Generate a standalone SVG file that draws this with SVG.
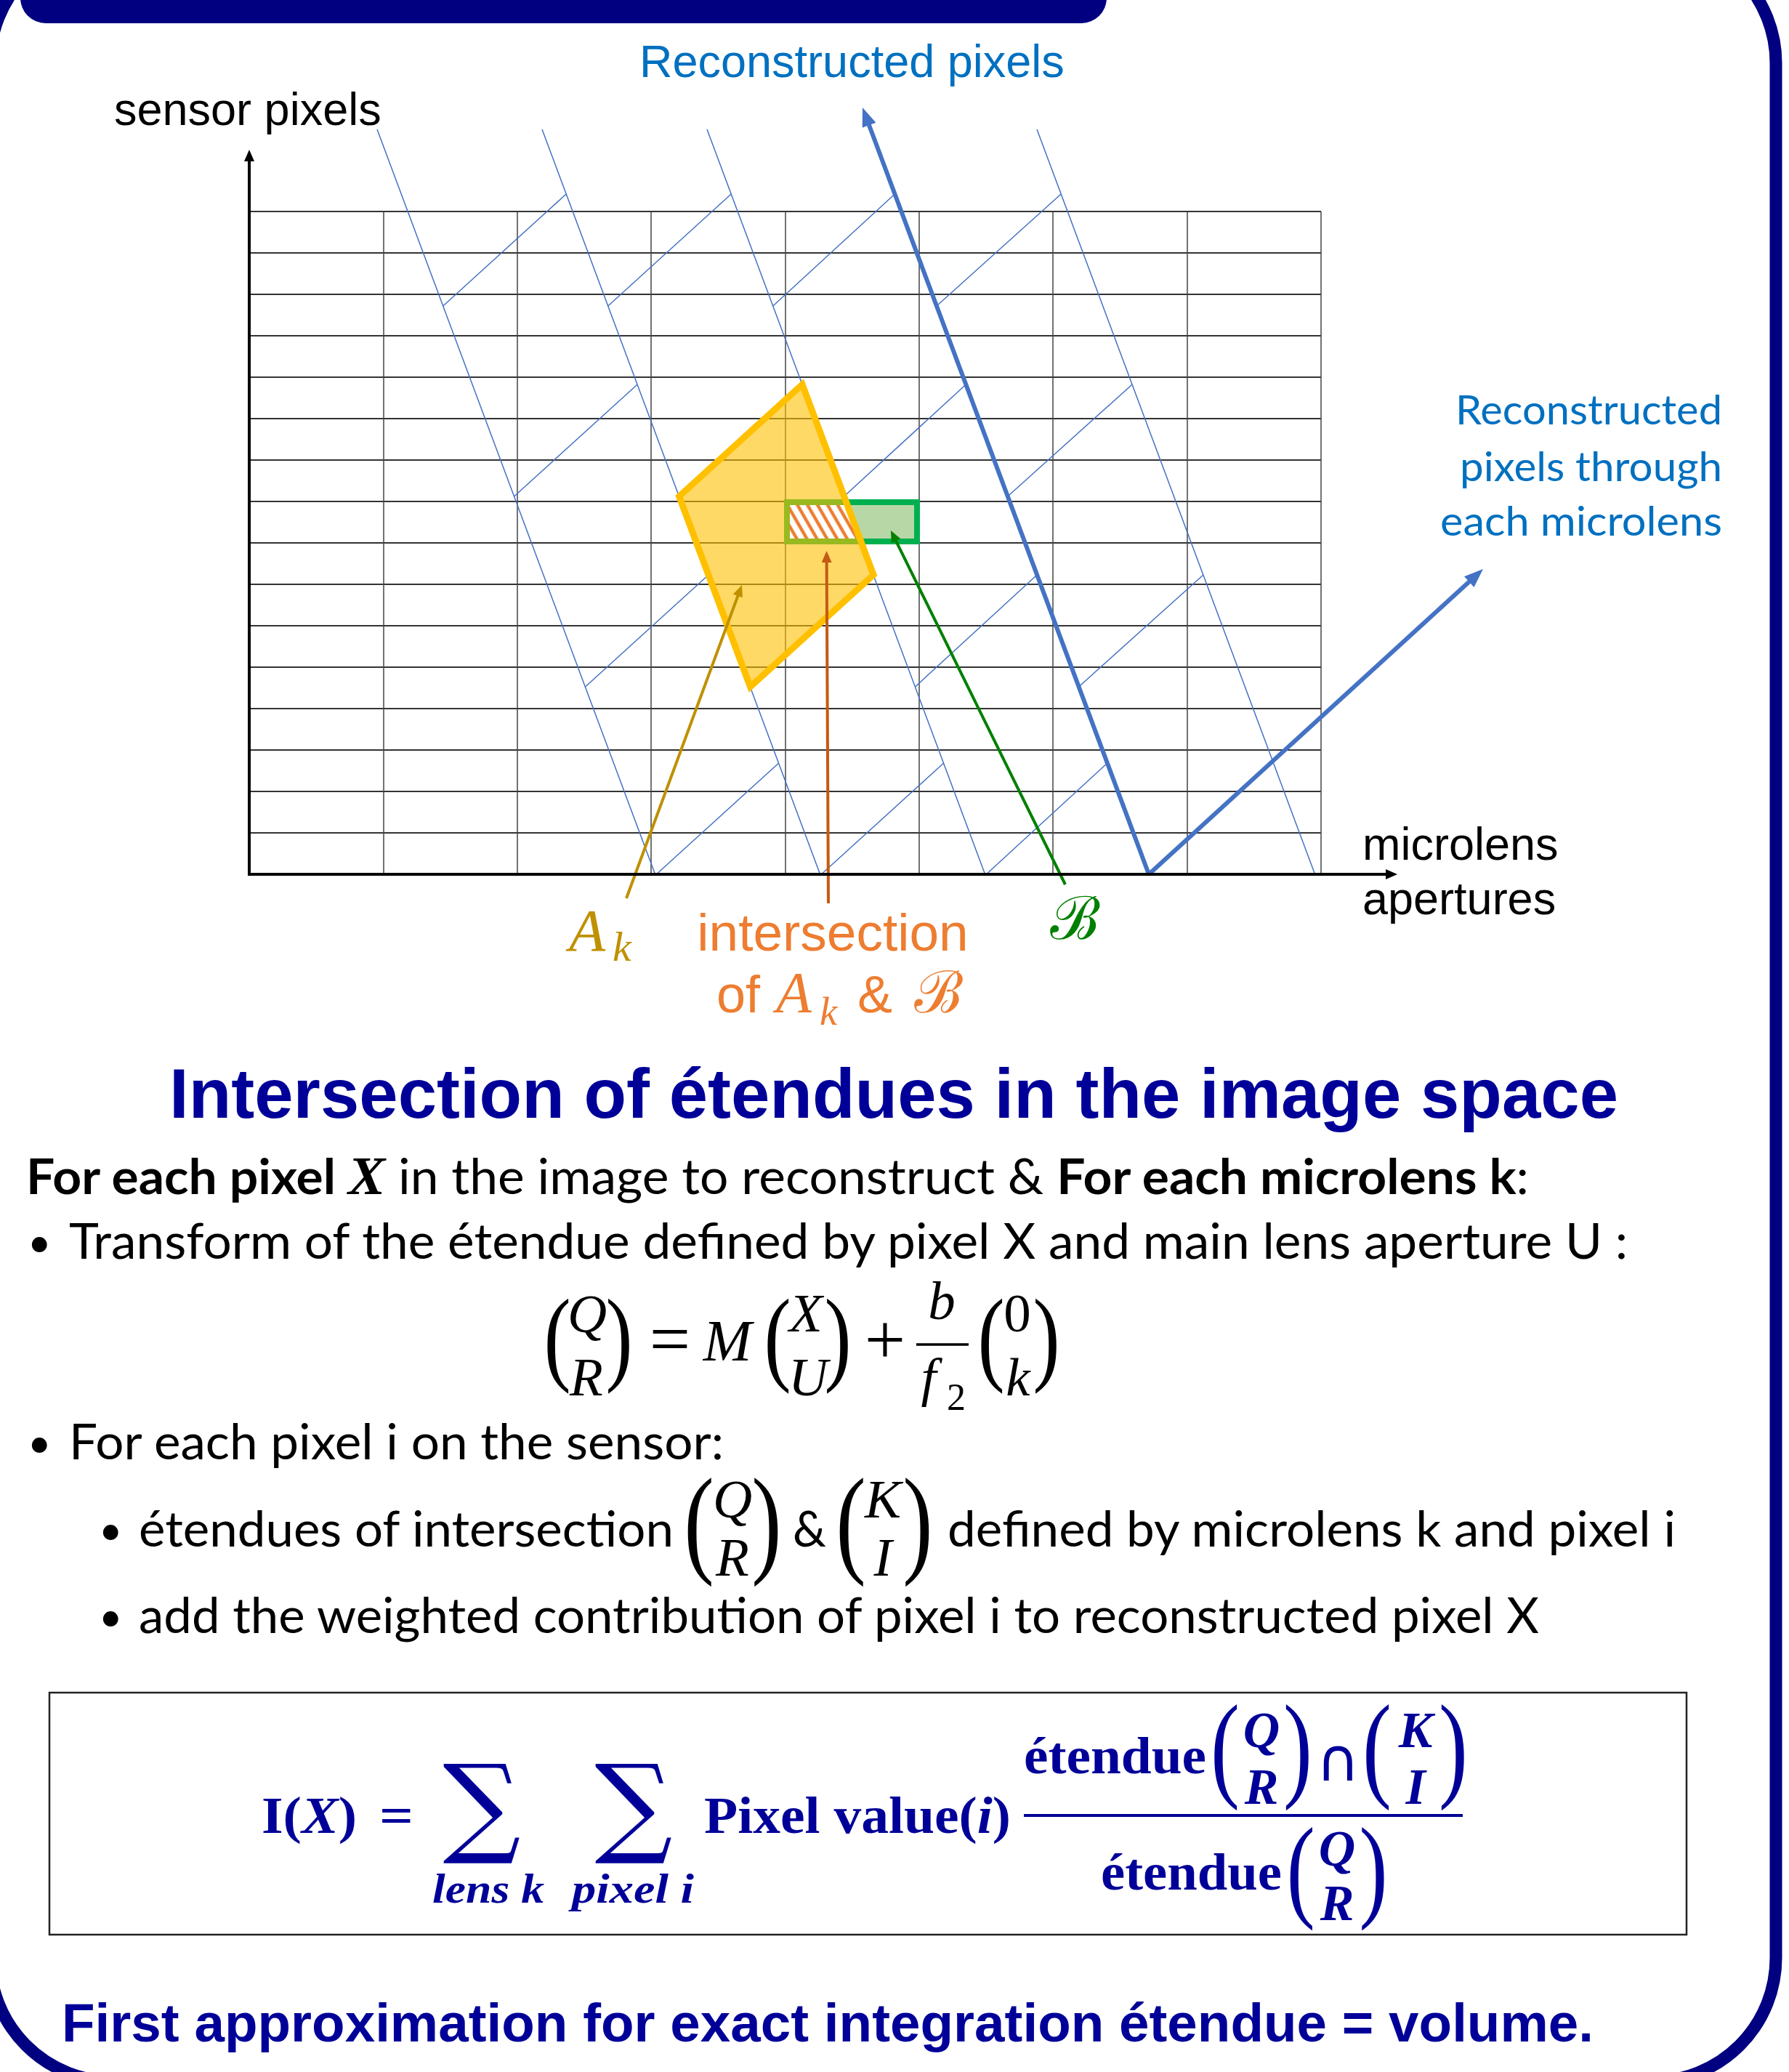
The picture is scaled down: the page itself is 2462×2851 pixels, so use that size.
<svg xmlns="http://www.w3.org/2000/svg" width="2462" height="2851" viewBox="0 0 2462 2851">
<defs>
<style>
.ar{font-family:"Liberation Sans",Arial,sans-serif}
.cal{font-family:Lato,"Open Sans",sans-serif;font-size:67px;fill:#000}
.bul{font-family:Lato,"Open Sans",sans-serif;font-size:56px;fill:#000}
.m{font-family:"Liberation Serif","DejaVu Serif",serif;font-style:italic;text-anchor:middle}
.up{font-family:"Liberation Serif","DejaVu Serif",serif;text-anchor:middle}
.gh{stroke:#333;stroke-width:2}
.gv{stroke:#444;stroke-width:1.5}
.bt{stroke:#4472C4;stroke-width:1.5;fill:none}
.bk{stroke:#4472C4;stroke-width:6;fill:none}
.par{font-family:"Liberation Serif","DejaVu Serif",serif;text-anchor:middle}
.fm{fill:#000099;font-family:"Liberation Serif","DejaVu Serif",serif;font-weight:bold}
.fmi{fill:#000099;font-family:"Liberation Serif","DejaVu Serif",serif;font-weight:bold;font-style:italic;text-anchor:middle}
</style>
<pattern id="hatch" patternUnits="userSpaceOnUse" width="12" height="12" patternTransform="rotate(-30)"><rect width="12" height="12" fill="#fff"/><line x1="3" y1="-1" x2="3" y2="13" stroke="#ED7D31" stroke-width="4.5"/></pattern>
<marker id="mAx" viewBox="0 0 16 14" refX="4" refY="7" markerWidth="16" markerHeight="14" markerUnits="userSpaceOnUse" orient="auto"><path d="M0,0 L16,7 L0,14 z" fill="#000"/></marker>
<marker id="mBlue" viewBox="0 0 26 20" refX="6" refY="10" markerWidth="26" markerHeight="20" markerUnits="userSpaceOnUse" orient="auto"><path d="M0,0 L26,10 L0,20 z" fill="#4472C4"/></marker>
<marker id="mGold" viewBox="0 0 16 14" refX="4" refY="7" markerWidth="16" markerHeight="14" markerUnits="userSpaceOnUse" orient="auto"><path d="M0,0 L16,7 L0,14 z" fill="#BF9000"/></marker>
<marker id="mOr" viewBox="0 0 16 14" refX="4" refY="7" markerWidth="16" markerHeight="14" markerUnits="userSpaceOnUse" orient="auto"><path d="M0,0 L16,7 L0,14 z" fill="#C55A11"/></marker>
<marker id="mGr" viewBox="0 0 16 14" refX="4" refY="7" markerWidth="16" markerHeight="14" markerUnits="userSpaceOnUse" orient="auto"><path d="M0,0 L16,7 L0,14 z" fill="#008000"/></marker>
</defs>
<rect x="0" y="0" width="2462" height="2851" fill="#fff"/>

<g id="frame">
<rect x="-14" y="-83" width="2458" height="2947" rx="170" ry="170" fill="none" stroke="#000080" stroke-width="17"/>
<rect x="28" y="-60" width="1495" height="92" rx="35" ry="35" fill="#000080"/>
</g>

<g id="grid">
<path class="gh" d="M343,291H1818M343,348H1818M343,405H1818M343,462H1818M343,519H1818M343,576H1818M343,633H1818M343,690H1818M343,747H1818M343,804H1818M343,861H1818M343,918H1818M343,975H1818M343,1032H1818M343,1089H1818M343,1146H1818"/>
<path class="gv" d="M528,291V1203M712,291V1203M896,291V1203M1081,291V1203M1265,291V1203M1449,291V1203M1634,291V1203M1818,291V1203"/>
</g>

<g id="rays">
<path class="bt" d="M519,178L902,1204M746,178L1129,1204M973,178L1356,1204M1427,178L1810,1204"/>
<path class="bt" d="M609.8,421L779.2,267M836.8,421L1006.2,267M1063.8,421L1231.4,267M1289,421L1460.2,267
M707.6,683L877.1,529M934.6,683L1104.1,529M1161.6,683L1329.3,529M1386.8,683L1558.1,529
M805.5,945L975,791M1032.5,945L1202,791M1259.5,945L1427.1,791M1484.6,945L1656,791
M902.2,1204L1071.7,1050M1129.2,1204L1298.7,1050M1356.2,1204L1523.9,1050"/>
</g>

<g id="B">
<rect x="1083" y="691" width="179" height="54" fill="#B8D7A6" stroke="#00B050" stroke-width="8"/>
</g>
<g id="Ak">
<polygon points="934.6,683 1104.1,529 1202,791 1032.5,945" fill="#FFC000" fill-opacity="0.6"/>
</g>
<g id="intersection">
<polygon points="1087,695 1166.1,695 1183.3,741 1087,741" fill="url(#hatch)"/>
</g>
<g id="Ak-outline">
<polygon points="934.6,683 1104.1,529 1202,791 1032.5,945" fill="none" stroke="#FFC000" stroke-width="9" stroke-linejoin="miter"/>
</g>

<g id="connectors">
<line class="bk" x1="1581" y1="1203" x2="1194" y2="166.7" marker-end="url(#mBlue)"/>
<line class="bk" x1="1581" y1="1203" x2="2026.2" y2="796.5" marker-end="url(#mBlue)"/>
<line x1="862" y1="1236" x2="1016.8" y2="816.3" stroke="#BF9000" stroke-width="4" marker-end="url(#mGold)"/>
<line x1="1140" y1="1243" x2="1137.6" y2="770" stroke="#C55A11" stroke-width="4" marker-end="url(#mOr)"/>
<line x1="1466" y1="1217" x2="1231.3" y2="740.8" stroke="#008000" stroke-width="4" marker-end="url(#mGr)"/>
<line x1="343" y1="1205" x2="343" y2="218" stroke="#000" stroke-width="4" marker-end="url(#mAx)"/>
<line x1="341" y1="1203" x2="1911" y2="1203" stroke="#000" stroke-width="4" marker-end="url(#mAx)"/>
</g>

<g id="labels">
<text class="ar" x="157" y="172" font-size="63" fill="#000">sensor pixels</text>
<text class="ar" x="880" y="106" font-size="63" fill="#0070C0">Reconstructed pixels</text>
<text class="ar" x="1875" y="1183" font-size="63" fill="#000">microlens</text>
<text class="ar" x="1875" y="1258" font-size="63" fill="#000">apertures</text>
<g font-family="Lato,'Open Sans',sans-serif" font-size="57" fill="#0070C0" text-anchor="end">
<text x="2370" y="584" textLength="367" lengthAdjust="spacingAndGlyphs">Reconstructed</text>
<text x="2370" y="662" textLength="361" lengthAdjust="spacingAndGlyphs">pixels through</text>
<text x="2370" y="737" textLength="388" lengthAdjust="spacingAndGlyphs">each microlens</text>
</g>
<text x="783" y="1308" fill="#BF9000" font-family="'Liberation Serif',serif" font-style="italic" font-size="82">A<tspan font-size="58" x="843" y="1322">k</tspan></text>
<text class="ar" x="1146" y="1308" font-size="73" fill="#ED7D31" text-anchor="middle">intersection</text>
<text class="ar" x="986" y="1393" font-size="72" fill="#ED7D31">of<tspan x="1068" font-family="'Liberation Serif',serif" font-style="italic" font-size="80">A</tspan><tspan x="1128" y="1410" font-family="'Liberation Serif',serif" font-style="italic" font-size="55">k</tspan><tspan x="1180" y="1393">&amp;</tspan><tspan x="1258" font-family="'DejaVu Serif','Liberation Serif',serif" font-size="80">ℬ</tspan></text>
<text x="1445" y="1292" fill="#008000" font-family="'DejaVu Serif','Liberation Serif',serif" font-size="82">ℬ</text>
</g>

<g id="title">
<text class="ar" x="1230" y="1538" font-size="96" font-weight="bold" fill="#000099" text-anchor="middle" textLength="1994" lengthAdjust="spacingAndGlyphs">Intersection of étendues in the image space</text>
</g>

<g id="body">
<text class="cal" x="36" y="1643" textLength="2068" lengthAdjust="spacingAndGlyphs"><tspan font-weight="bold">For each pixel </tspan><tspan font-family="'Liberation Serif',serif" font-weight="bold" font-style="italic" font-size="74">X</tspan> in the image to reconstruct &amp; <tspan font-weight="bold">For each microlens k</tspan>:</text>
<text class="bul" x="38" y="1729">•</text>
<text class="cal" x="95" y="1732" textLength="2145" lengthAdjust="spacingAndGlyphs">Transform of the étendue defined by pixel X and main lens aperture U :</text>
<text class="bul" x="38" y="2005">•</text>
<text class="cal" x="95" y="2008" textLength="901" lengthAdjust="spacingAndGlyphs">For each pixel i on the sensor:</text>
<text class="bul" x="136" y="2125">•</text>
<text class="cal" x="191" y="2128" textLength="736" lengthAdjust="spacingAndGlyphs">étendues of intersection</text>
<text class="cal" x="1091" y="2128" textLength="46" lengthAdjust="spacingAndGlyphs">&amp;</text>
<text class="cal" x="1304" y="2128" textLength="1002" lengthAdjust="spacingAndGlyphs">defined by microlens k and pixel i</text>
<text class="bul" x="136" y="2244">•</text>
<text class="cal" x="191" y="2247" textLength="1927" lengthAdjust="spacingAndGlyphs">add the weighted contribution of pixel i to reconstructed pixel X</text>
</g>

<g id="equation" fill="#000">
<g font-size="143">
<text class="par" transform="translate(767,1887) scale(0.78,1)">(</text>
<text class="par" transform="translate(852,1887) scale(0.78,1)">)</text>
<text class="par" transform="translate(1070,1887) scale(0.78,1)">(</text>
<text class="par" transform="translate(1153,1887) scale(0.78,1)">)</text>
<text class="par" transform="translate(1364,1887) scale(0.78,1)">(</text>
<text class="par" transform="translate(1440,1887) scale(0.78,1)">)</text>
</g>
<g font-size="75">
<text class="m" x="808" y="1833">Q</text>
<text class="m" x="807" y="1920">R</text>
<text class="up" x="922" y="1876" font-size="100">=</text>
<text class="m" x="1001" y="1872" font-size="80">M</text>
<text class="m" x="1109" y="1832">X</text>
<text class="m" x="1112" y="1920">U</text>
<text class="up" x="1218" y="1877" font-size="100">+</text>
<text class="m" x="1296" y="1815">b</text>
<text class="m" x="1278" y="1920">f</text>
<text class="up" x="1316" y="1940" font-size="52">2</text>
<text class="up" x="1400" y="1832">0</text>
<text class="m" x="1401" y="1920">k</text>
</g>
<line x1="1261" y1="1850" x2="1333" y2="1850" stroke="#000" stroke-width="3.5"/>
</g>

<g id="inline-vectors" fill="#000">
<g font-size="166">
<text class="par" transform="translate(962,2148) scale(0.75,1)">(</text>
<text class="par" transform="translate(1055,2148) scale(0.75,1)">)</text>
<text class="par" transform="translate(1171,2148) scale(0.75,1)">(</text>
<text class="par" transform="translate(1263,2148) scale(0.75,1)">)</text>
</g>
<g font-size="75">
<text class="m" x="1008" y="2088">Q</text>
<text class="m" x="1008" y="2168">R</text>
<text class="m" x="1215" y="2088">K</text>
<text class="m" x="1215" y="2168">I</text>
</g>
</g>

<g id="formula-box">
<rect x="68" y="2329" width="2253" height="333" fill="none" stroke="#222" stroke-width="2.5"/>
<text class="fm" x="360" y="2522" font-size="72" textLength="131" lengthAdjust="spacingAndGlyphs">I(<tspan font-style="italic">X</tspan>)</text>
<text class="fm" x="522" y="2522" font-size="72" textLength="47" lengthAdjust="spacingAndGlyphs">=</text>
<text x="663" y="2535" fill="#000099" font-family="'DejaVu Serif',serif" font-size="150" text-anchor="middle">∑</text>
<text x="872" y="2535" fill="#000099" font-family="'DejaVu Serif',serif" font-size="150" text-anchor="middle">∑</text>
<text class="fmi" x="672" y="2618" font-size="56" textLength="154" lengthAdjust="spacingAndGlyphs">lens k</text>
<text class="fmi" x="871" y="2618" font-size="56" textLength="168" lengthAdjust="spacingAndGlyphs">pixel i</text>
<text class="fm" x="969" y="2522" font-size="72" textLength="422" lengthAdjust="spacingAndGlyphs">Pixel value(<tspan font-style="italic">i</tspan>)</text>
<line x1="1409" y1="2498" x2="2013" y2="2498" stroke="#000099" stroke-width="4"/>
<text class="fm" x="1409" y="2440" font-size="72" textLength="251" lengthAdjust="spacingAndGlyphs">étendue</text>
<text class="fm" x="1515" y="2600" font-size="72" textLength="249" lengthAdjust="spacingAndGlyphs">étendue</text>
<g fill="#000099">
<text class="par" font-size="160" transform="translate(1686,2457) scale(0.75,1)">(</text>
<text class="par" font-size="160" transform="translate(1786,2457) scale(0.75,1)">)</text>
<text class="par" font-size="160" transform="translate(1895,2457) scale(0.75,1)">(</text>
<text class="par" font-size="160" transform="translate(2000,2457) scale(0.75,1)">)</text>
<text class="par" font-size="157" transform="translate(1790,2623) scale(0.75,1)">(</text>
<text class="par" font-size="157" transform="translate(1890,2623) scale(0.75,1)">)</text>
</g>
<g font-size="70">
<text class="fmi" x="1736" y="2404">Q</text>
<text class="fmi" x="1736" y="2482">R</text>
<text class="fmi" x="1948" y="2404">K</text>
<text class="fmi" x="1948" y="2482">I</text>
<text class="fmi" x="1840" y="2567">Q</text>
<text class="fmi" x="1840" y="2642">R</text>
</g>
<text x="1841" y="2450" fill="#000099" font-family="'DejaVu Sans',sans-serif" font-size="82" text-anchor="middle">∩</text>
</g>

<g id="footer">
<text class="ar" x="85" y="2809" font-size="74" font-weight="bold" fill="#000099" textLength="2108" lengthAdjust="spacingAndGlyphs">First approximation for exact integration étendue = volume.</text>
</g>
</svg>
